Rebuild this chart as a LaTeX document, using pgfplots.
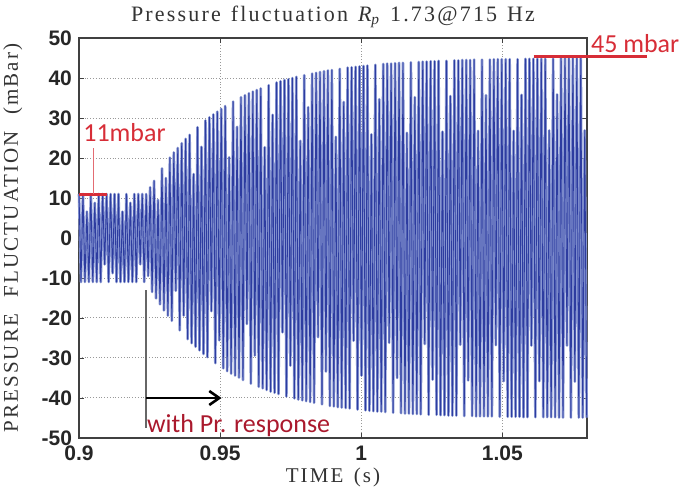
\documentclass[border=0pt]{standalone}
\usepackage{fontspec}
\setmainfont{Liberation Serif}
\setsansfont{Liberation Sans}
\newfontfamily\lsfont[LetterSpace=10]{Liberation Serif}
\newfontfamily\annfont{Carlito}
\usepackage{pgfplots}
\pgfplotsset{compat=1.18}
\usetikzlibrary{arrows.meta}
\definecolor{sig}{RGB}{45,60,160}
\definecolor{sigl}{RGB}{135,150,210}
\definecolor{annred}{RGB}{215,45,55}
\definecolor{darkred}{RGB}{170,25,45}
\pgfplotstableread{
t p
0.9 11
0.9007 -11
0.9014 11
0.9021 -11
0.9028 6.6
0.9035 -11
0.9042 11
0.9049 -11
0.9056 8.8
0.9063 -11
0.907 11
0.9077 -11
0.9084 11
0.9091 -6.6
0.9098 11
0.9105 -11
0.9112 11
0.9119 -8.8
0.9126 11
0.9133 -11
0.914 11
0.9147 -11
0.9154 6.6
0.9161 -11
0.9168 11
0.9175 -11
0.9182 8.8
0.9189 -11
0.9196 11
0.9203 -11
0.921 11
0.9217 -6.6
0.9224 11
0.9231 -11
0.9238 11
0.9245 -9.5
0.9252 12.7
0.9259 -13.5
0.9266 14.3
0.9273 -15.1
0.928 9.5
0.9287 -16.6
0.9294 17.4
0.9301 -18.1
0.9308 15.0
0.9315 -19.4
0.9322 20.1
0.9329 -20.7
0.9336 21.4
0.9343 -13.2
0.935 22.5
0.9357 -23.1
0.9364 23.7
0.9371 -19.4
0.9378 24.8
0.9385 -25.3
0.9392 25.8
0.9399 -26.3
0.9406 16.0
0.9413 -27.2
0.942 27.7
0.9427 -28.1
0.9434 22.8
0.9441 -29.0
0.9448 29.4
0.9455 -29.8
0.9462 30.2
0.9469 -18.3
0.9476 30.9
0.9483 -31.3
0.949 31.6
0.9497 -25.6
0.9504 32.3
0.9511 -32.6
0.9518 33.0
0.9525 -33.3
0.9532 20.2
0.9539 -33.9
0.9546 34.1
0.9553 -34.4
0.956 27.8
0.9567 -34.9
0.9574 35.2
0.9581 -35.5
0.9588 35.7
0.9595 -21.5
0.9602 36.2
0.9609 -36.4
0.9616 36.6
0.9623 -29.4
0.963 37.0
0.9637 -37.2
0.9644 37.4
0.9651 -37.6
0.9658 22.7
0.9665 -38.0
0.9672 38.2
0.9679 -38.4
0.9686 30.8
0.9693 -38.7
0.97 38.9
0.9707 -39.0
0.9714 39.2
0.9721 -23.6
0.9728 39.5
0.9735 -39.6
0.9742 39.7
0.9749 -31.9
0.9756 40.0
0.9763 -40.1
0.977 40.3
0.9777 -40.4
0.9784 24.3
0.9791 -40.6
0.9798 40.7
0.9805 -40.8
0.9812 32.7
0.9819 -41.0
0.9826 41.1
0.9833 -41.2
0.984 41.3
0.9847 -24.8
0.9854 41.5
0.9861 -41.6
0.9868 41.7
0.9875 -33.4
0.9882 41.9
0.9889 -42.0
0.9896 42.0
0.9903 -42.1
0.991 25.3
0.9917 -42.3
0.9924 42.3
0.9931 -42.4
0.9938 34.0
0.9945 -42.5
0.9952 42.6
0.9959 -42.6
0.9966 42.7
0.9973 -25.7
0.998 42.8
0.9987 -42.9
0.9994 42.9
1.0001 -34.4
1.0008 43.0
1.0015 -43.1
1.0022 43.1
1.0029 -43.2
1.0036 25.9
1.0043 -43.3
1.005 43.3
1.0057 -43.4
1.0064 34.7
1.0071 -43.4
1.0078 43.5
1.0085 -43.5
1.0092 43.6
1.0099 -26.2
1.0106 43.6
1.0113 -43.7
1.012 43.7
1.0127 -35.0
1.0134 43.8
1.0141 -43.8
1.0148 43.8
1.0155 -43.9
1.0162 26.3
1.0169 -43.9
1.0176 43.9
1.0183 -44.0
1.019 35.2
1.0197 -44.0
1.0204 44.0
1.0211 -44.1
1.0218 44.1
1.0225 -26.5
1.0232 44.1
1.0239 -44.2
1.0246 44.2
1.0253 -35.4
1.026 44.2
1.0267 -44.2
1.0274 44.3
1.0281 -44.3
1.0288 26.6
1.0295 -44.3
1.0302 44.3
1.0309 -44.4
1.0316 35.5
1.0323 -44.4
1.033 44.4
1.0337 -44.4
1.0344 44.4
1.0351 -26.7
1.0358 44.5
1.0365 -44.5
1.0372 44.5
1.0379 -35.6
1.0386 44.5
1.0393 -44.5
1.04 44.6
1.0407 -44.6
1.0414 26.8
1.0421 -44.6
1.0428 44.6
1.0435 -44.6
1.0442 35.7
1.0449 -44.6
1.0456 44.6
1.0463 -44.6
1.047 44.7
1.0477 -26.8
1.0484 44.7
1.0491 -44.7
1.0498 44.7
1.0505 -35.8
1.0512 44.7
1.0519 -44.7
1.0526 44.7
1.0533 -44.7
1.054 26.8
1.0547 -44.7
1.0554 44.7
1.0561 -44.7
1.0568 35.8
1.0575 -44.8
1.0582 44.8
1.0589 -44.8
1.0596 44.8
1.0603 -26.9
1.061 44.8
1.0617 -44.8
1.0624 44.8
1.0631 -35.8
1.0638 44.8
1.0645 -44.8
1.0652 44.8
1.0659 -44.8
1.0666 26.9
1.0673 -44.8
1.068 44.8
1.0687 -44.8
1.0694 35.9
1.0701 -44.9
1.0708 44.9
1.0715 -44.9
1.0722 44.9
1.0729 -26.9
1.0736 44.9
1.0743 -44.9
1.075 44.9
1.0757 -35.9
1.0764 44.9
1.0771 -44.9
1.0778 44.9
1.0785 -44.9
1.0792 26.9
1.0799 -44.9
}\signal
\begin{document}
\begin{tikzpicture}
\useasboundingbox (-39.5pt,-30pt) rectangle (306pt,219pt);
\begin{axis}[
  at={(0,0)}, anchor=south west,
  scale only axis, width=254pt, height=200pt,
  xmin=0.9, xmax=1.08, ymin=-50, ymax=50,
  xtick={0.9,0.95,1,1.05}, xticklabels={0.9,0.95,1,1.05},
  ytick={-50,-40,...,50}, yticklabels={-50,-40,-30,-20,-10,0,10,20,30,40,50},
  tick align=inside, major tick length=2.5pt,
  tick style={black!75},
  tick label style={font=\sffamily\bfseries\fontsize{10.5}{12}\selectfont, text=black!85},
  xticklabel style={yshift=-0.5pt},
  grid=major, major grid style={densely dotted, gray!80, line width=0.5pt},
  axis line style={black!75, line width=0.6pt},
  clip=false,
  every axis title/.style={at={(axis description cs:0.5,1)}, anchor=base, yshift=8.5pt, inner sep=0pt, font=\lsfont\fontsize{11}{13}\selectfont, text=black!80},
  every axis x label/.style={at={(axis description cs:0.5,0)}, anchor=base, yshift=-22.5pt, inner sep=0pt, font=\lsfont\fontsize{10.5}{12}\selectfont, text=black!80},
  every axis y label/.style={at={(axis description cs:0,0.5)}, rotate=90, anchor=base, yshift=30.5pt, inner sep=0pt, font=\lsfont\fontsize{10.5}{12}\selectfont, text=black!80},
  title={Pressure\hspace{0.45em}fluctuation\hspace{0.45em}{\itshape R}\textsubscript{\itshape p}\hspace{0.45em}1.73@715\hspace{0.45em}Hz},
  xlabel={TIME\hspace{0.5em}(s)},
  ylabel={PRESSURE\hspace{0.8em}FLUCTUATION\hspace{0.8em}(mBar)},
]
\addplot[sigl, line width=1.3pt, line join=round, mark=none] table[x=t, y=p] {\signal};
\addplot[sig, line width=0.45pt, line join=round, mark=none] table[x=t, y=p] {\signal};
\draw[annred, line width=1.5pt] (axis cs:0.9,11) -- (axis cs:0.9099,11);
\draw[annred!70, line width=0.5pt] (axis cs:0.9053,22.5) -- (axis cs:0.9053,11);
\node[annred, anchor=base west, inner sep=0pt, font=\annfont\fontsize{13}{15}\selectfont] at (axis cs:0.9014,24.25) {11mbar};
\draw[annred, line width=1.5pt] (axis cs:1.0611,45.3) -- (axis cs:1.1011,45.3);
\node[annred, anchor=base west, inner sep=0pt, font=\annfont\fontsize{13}{15}\selectfont] at (axis cs:1.0813,46.5) {45 mbar};
\draw[black!60, line width=0.7pt] (axis cs:0.9237,-13) -- (axis cs:0.9237,-47.5);
\draw[black, line width=1.3pt, -{Straight Barb[length=5pt,width=7pt]}] (axis cs:0.9237,-40) -- (axis cs:0.9505,-40);
\node[darkred, anchor=base west, inner sep=0pt, font=\annfont\fontsize{13}{15}\selectfont] at (axis cs:0.924,-48.75) {with Pr. response};
\end{axis}
\end{tikzpicture}
\end{document}
